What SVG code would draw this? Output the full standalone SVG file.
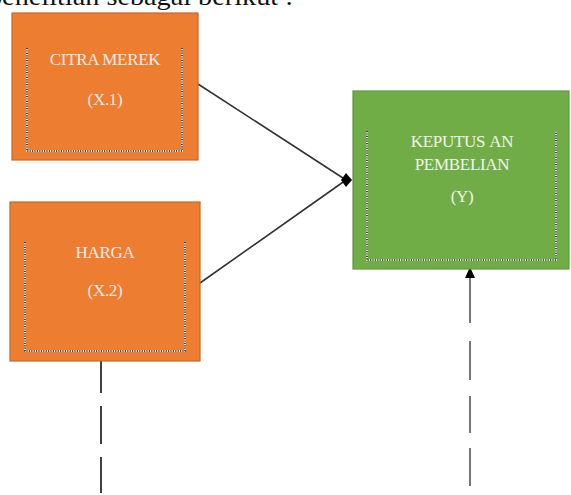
<svg xmlns="http://www.w3.org/2000/svg" width="571" height="495" viewBox="0 0 571 495">
<style>
.orange{fill:#ED7D31;stroke:#C9652A;stroke-width:1.2}
.green{fill:#70AD47;stroke:#5E9A3C;stroke-width:1.2}
.dotw{fill:none;stroke:#ffffff;stroke-width:1.6}
.dotb{fill:none;stroke:#222;stroke-width:1.6;stroke-dasharray:1.2 1.2}
.lbl{font-family:"Liberation Serif","Times New Roman",serif;font-size:17px;text-anchor:middle;letter-spacing:-0.3px}
.lo{fill:#FCEBEA}
.lg{fill:#F0F6EC}
.conn{stroke:#333;stroke-width:1.6;fill:none}
</style>
<rect width="571" height="495" fill="#ffffff"/>
<text x="293" y="5" font-family="'Liberation Serif','Times New Roman',serif" font-size="25" text-anchor="end" fill="#111" textLength="305" lengthAdjust="spacingAndGlyphs">penelitian sebagai berikut :</text>

<g id="connectors">
<line class="conn" x1="198" y1="84" x2="346" y2="180"/>
<line class="conn" x1="200" y1="283" x2="346" y2="180"/>
<path d="M341 180 L346 173 L352 180 L346 187 Z" fill="#000"/>
<line x1="101" y1="355" x2="101" y2="493" stroke="#111" stroke-width="1.6" stroke-dasharray="38 13"/>
<path d="M470 486 V277" stroke="#555" stroke-width="1.6" fill="none" stroke-dasharray="38 15 37 16 39 18 60"/>
<path d="M470 267 L475 278 L465 278 Z" fill="#000"/>
</g>

<g id="node-x1">
<rect class="orange" x="12" y="13" width="186" height="147"/>
<path class="dotw" d="M27 48 V151 H182 V48"/>
<path class="dotb" d="M27 48 V151 H182 V48"/>
<text class="lbl lo" x="105" y="65">CITRA MEREK</text>
<text class="lbl lo" x="105" y="105">(X.1)</text>
</g>

<g id="node-x2">
<rect class="orange" x="10" y="202" width="190" height="159"/>
<path class="dotw" d="M25 242 V351 H185 V242"/>
<path class="dotb" d="M25 242 V351 H185 V242"/>
<text class="lbl lo" x="105" y="258">HARGA</text>
<text class="lbl lo" x="105" y="296">(X.2)</text>
</g>

<g id="node-y">
<rect class="green" x="353" y="91" width="216" height="178"/>
<path class="dotw" d="M367 131 V260 H556 V131"/>
<path class="dotb" d="M367 131 V260 H556 V131"/>
<text class="lbl lg" x="462" y="147"><tspan>KEPUTUS</tspan><tspan dx="4">AN</tspan></text>
<text class="lbl lg" x="462" y="170">PEMBELIAN</text>
<text class="lbl lg" x="462" y="202">(Y)</text>
</g>
</svg>
